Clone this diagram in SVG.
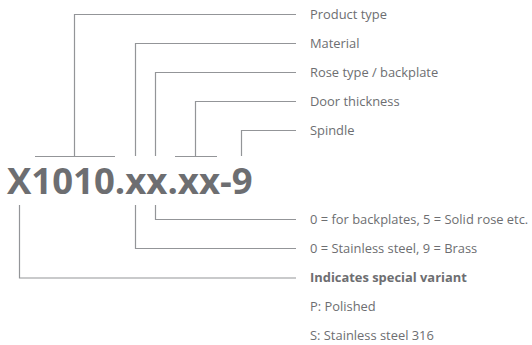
<svg xmlns="http://www.w3.org/2000/svg" width="532" height="345" viewBox="0 0 532 345">
<style>
.ln{fill:none;stroke:#939598;stroke-width:1.2}
.lb{font-family:"Open Sans",sans-serif;font-size:12.9px;fill:#6d6e71}
.b{font-weight:bold}
.code{font-family:"Open Sans",sans-serif;font-size:36.5px;font-weight:bold;fill:#6d6e71}
</style>
<rect width="532" height="345" fill="#ffffff"/>
<g id="connectors">
<path class="ln" d="M74.5,156.5V14.5H296"/>
<path class="ln" d="M135.5,156V43.5H296"/>
<path class="ln" d="M155.5,156V72.5H296"/>
<path class="ln" d="M195.5,156.5V101.5H296"/>
<path class="ln" d="M241.5,156V130.5H296"/>
<path class="ln" d="M35,156.5H115"/>
<path class="ln" d="M175,156.5H217"/>
<path class="ln" d="M155.5,205V219.5H296"/>
<path class="ln" d="M135.5,205V248.5H296"/>
<path class="ln" d="M19.5,205V278H296"/>
</g>
<g id="code"><text class="code" x="7" y="194">X1010.xx.xx-9</text></g>
<g id="product-type"><text class="lb" x="310" y="18.5">Product type</text></g>
<g id="material"><text class="lb" x="310" y="47.5">Material</text></g>
<g id="rose-type"><text class="lb" x="310" y="76.5">Rose type / backplate</text></g>
<g id="door-thickness"><text class="lb" x="310" y="105.5">Door thickness</text></g>
<g id="spindle"><text class="lb" x="310" y="134.5">Spindle</text></g>
<g id="rose-values"><text class="lb" x="310" y="223.5">0 = for backplates, 5 = Solid rose etc.</text></g>
<g id="material-values"><text class="lb" x="310" y="252.5">0 = Stainless steel, 9 = Brass</text></g>
<g id="special-variant"><text class="lb b" x="310" y="282">Indicates special variant</text></g>
<g id="polished"><text class="lb" x="310" y="311">P: Polished</text></g>
<g id="ss316"><text class="lb" x="310" y="340">S: Stainless steel 316</text></g>
</svg>
